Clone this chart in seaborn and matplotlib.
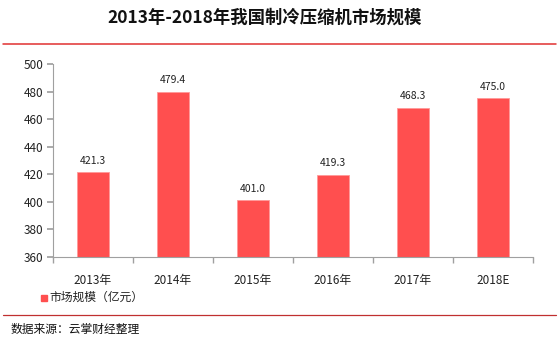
import matplotlib
matplotlib.use("Agg")
import matplotlib.pyplot as plt
from matplotlib.lines import Line2D
import seaborn as sns
import pandas as pd

years = ["2013年", "2014年", "2015年", "2016年", "2017年", "2018E"]
market_size = [421.3, 479.4, 401.0, 419.3, 468.3, 475.0]
y_ticks = [360, 380, 400, 420, 440, 460, 480, 500]

sns.set_theme(style="white")
plt.rcParams["font.family"] = ["Noto Sans CJK SC", "DejaVu Sans"]

df = pd.DataFrame({"year": years, "value": market_size})

fig = plt.figure(figsize=(5.58, 3.44), dpi=100)
ax = fig.add_axes([0.095, 0.253, 0.86, 0.561])

bar_color = "#FF4F4F"
sns.barplot(data=df, x="year", y="value", color=bar_color, width=0.4,
            saturation=1, ax=ax, edgecolor="#FF9A9A", linewidth=0.6)

ax.set_ylim(360, 500)
ax.set_yticks(y_ticks)
ax.set_xlim(-0.5, len(years) - 0.5)
ax.set_xlabel("")
ax.set_ylabel("")

for i, v in enumerate(market_size):
    ax.text(i, v + 5, f"{v:.1f}", ha="center", va="bottom", fontsize=7.5, color="#222222")

for side in ["top", "right"]:
    ax.spines[side].set_visible(False)
for side in ["left", "bottom"]:
    ax.spines[side].set_color("#A0A0A0")
    ax.spines[side].set_linewidth(0.8)

ax.tick_params(axis="y", which="both", left=True, length=4, color="#A0A0A0",
               labelsize=8.5, labelcolor="#222222", pad=3)
ax.tick_params(axis="x", bottom=False, labelsize=8.5, labelcolor="#222222", pad=6)
# category separators on the x axis
ax.set_xticks([i + 0.5 for i in range(-1, len(years))], minor=True)
ax.tick_params(axis="x", which="minor", bottom=True, length=4, color="#A0A0A0")

fig.text(0.475, 0.95, "2013年-2018年我国制冷压缩机市场规模", ha="center", va="center",
         fontsize=12.5, fontweight="bold", color="#111111")
fig.add_artist(Line2D([0.005, 0.997], [0.872, 0.872], color="#E03030", linewidth=1.1))

fig.add_artist(Line2D([0.078], [0.135], marker="s", markersize=5, color=bar_color,
                      linestyle="none"))
fig.text(0.088, 0.135, "市场规模（亿元）", ha="left", va="center", fontsize=8.5, color="#222222")
fig.add_artist(Line2D([0.005, 0.997], [0.085, 0.085], color="#C03030", linewidth=0.9))
fig.text(0.018, 0.042, "数据来源：云掌财经整理", ha="left", va="center", fontsize=8.5, color="#111111")

fig.savefig("out.png", dpi=100)
